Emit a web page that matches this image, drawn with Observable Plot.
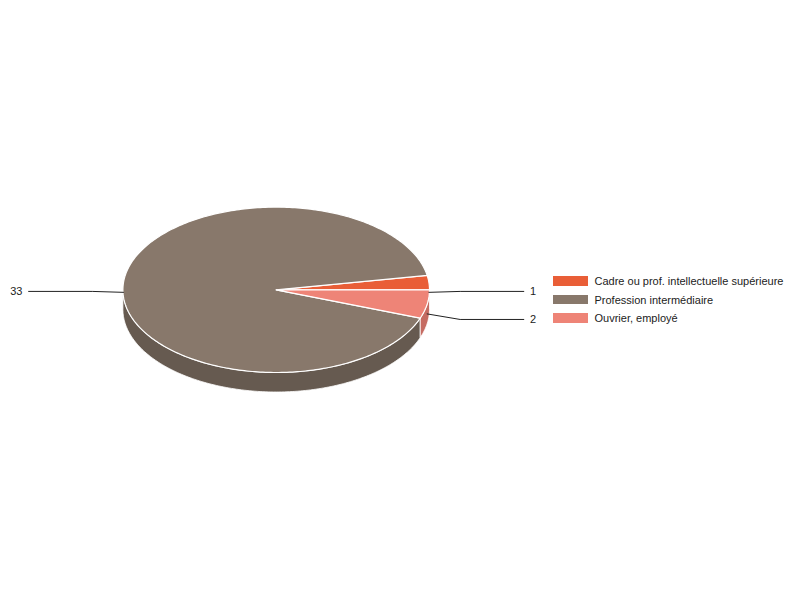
<!DOCTYPE html>
<html><head><meta charset="utf-8">
<script src="https://cdn.jsdelivr.net/npm/d3@7"></script>
<script src="https://cdn.jsdelivr.net/npm/@observablehq/plot@0.6"></script>
<style>
body{margin:0;background:#fff;font-family:"Liberation Sans",Arial,sans-serif;}
#wrap{position:relative;width:800px;height:600px;}
#legend{position:absolute;left:553px;top:271.5px;font-size:11px;color:#222;}
.row{display:flex;align-items:center;height:18.7px;}
.sw{width:34.5px;height:9.5px;margin-right:7px;}
</style></head><body><div id="wrap"><div id="legend"></div></div>
<script>
const categories = ["Cadre ou prof. intellectuelle supérieure", "Profession intermédiaire", "Ouvrier, employé"];
const values = [1, 33, 2];
const topColors = ["#E95E37", "#88786B", "#EE8477"];
const sideColors = ["#C24E2E", "#665A50", "#C56B62"];

const cx = 275.7, cy = 289.3, rx = 153.3, ry = 82.7, depth = 19.5;
const dz = depth / ry;
const total = d3.sum(values);
const TAU = 2 * Math.PI;

let cum = 0;
const slices = values.map((v, i) => {
  const a0 = -cum / total * TAU; cum += v; const a1 = -cum / total * TAU;
  return {i, v, a0, a1};
});

function arcPts(s, e, off) {
  const n = Math.max(2, Math.ceil(Math.abs(e - s) / (Math.PI / 180)));
  const out = [];
  for (let k = 0; k <= n; k++) { const t = s + (e - s) * k / n; out.push([Math.cos(t), Math.sin(t) + off]); }
  return out;
}

const topData = [], sideData = [], leaderData = [], labelData = [];
slices.forEach(sl => {
  const pts = [[0, 0], ...arcPts(sl.a0, sl.a1, 0), [0, 0]];
  pts.forEach(([x, y]) => topData.push({key: sl.i, x, y, color: topColors[sl.i]}));
  const lo = Math.min(sl.a0, sl.a1) + TAU, hi = Math.max(sl.a0, sl.a1) + TAU;
  [0, 1].forEach(k => {
    const s = Math.max(lo, k * TAU), e = Math.min(hi, k * TAU + Math.PI);
    if (e > s) {
      const poly = [...arcPts(s, e, 0), ...arcPts(e, s, dz)];
      poly.push(poly[0]);
      poly.forEach(([x, y]) => sideData.push({key: sl.i + "-" + k, x, y, color: sideColors[sl.i]}));
    }
  });
  const m = (sl.a0 + sl.a1) / 2;
  const side = Math.cos(m) >= 0 ? 1 : -1;
  const ly = 1.3 * Math.sin(m) + dz / 2 + 0.015;
  [[Math.cos(m), Math.sin(m) + dz / 2], [side * 1.2, ly], [side * 1.615, ly]]
    .forEach(([x, y]) => leaderData.push({key: sl.i, x, y}));
  labelData.push({x: side * 1.655, y: ly, side, text: String(values[sl.i])});
});

const chart = Plot.plot({
  width: 800, height: 600, margin: 0,
  style: {fontFamily: "'Liberation Sans', Arial, sans-serif", fontSize: "11px", background: "white"},
  x: {domain: [-1, 1], range: [cx - rx, cx + rx], axis: null},
  y: {domain: [-1, 1], range: [cy - ry, cy + ry], axis: null},
  color: {type: "identity"},
  marks: [
    Plot.line(sideData, {x: "x", y: "y", z: "key", fill: "color", stroke: "white", strokeWidth: 1, strokeOpacity: 0.8}),
    Plot.line(topData, {x: "x", y: "y", z: "key", fill: "color", stroke: "white", strokeWidth: 1.2}),
    Plot.line(leaderData, {x: "x", y: "y", z: "key", stroke: "#222", strokeWidth: 1}),
    Plot.text(labelData.filter(d => d.side > 0), {x: "x", y: "y", text: "text", textAnchor: "start", fill: "#222", fontSize: 11}),
    Plot.text(labelData.filter(d => d.side < 0), {x: "x", y: "y", text: "text", textAnchor: "end", fill: "#222", fontSize: 11})
  ]
});
document.getElementById("wrap").prepend(chart);

const legend = document.getElementById("legend");
categories.forEach((c, i) => {
  const row = document.createElement("div"); row.className = "row";
  const sw = document.createElement("div"); sw.className = "sw"; sw.style.background = topColors[i];
  const tx = document.createElement("span"); tx.textContent = c;
  row.append(sw, tx); legend.append(row);
});
</script></body></html>
